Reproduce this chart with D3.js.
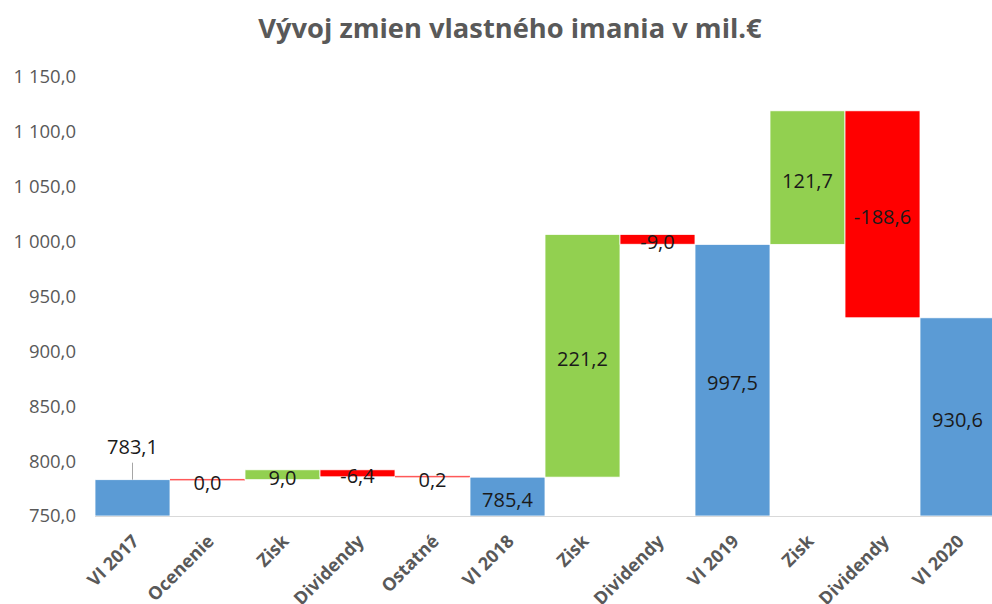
<!DOCTYPE html>
<html>
<head>
<meta charset="utf-8">
<script src="https://cdn.jsdelivr.net/npm/d3@7"></script>
<style>
  body { margin: 0; background: #fff; }
  svg { display: block; font-family: "Open Sans", sans-serif; }
</style>
</head>
<body>
<div id="chart"></div>
<script>
const categories = ["VI 2017", "Ocenenie", "Zisk", "Dividendy", "Ostatné", "VI 2018",
  "Zisk ", "Dividendy ", "VI 2019", "Zisk  ", "Dividendy  ", "VI 2020"]
const values = [783.1, 0.0, 9.0, -6.4, 0.2, 785.4, 221.2, -9.0, 997.5, 121.7, -188.6, 930.6]
const kinds = ["total", "other", "up", "down", "other", "total", "up", "down", "total", "up", "down", "total"]
const yTicks = [750, 800, 850, 900, 950, 1000, 1050, 1100, 1150]

const width = 992
const height = 604
const margin = { top: 77, right: -3, bottom: 88, left: 95 }
const colors = { total: "#5b9bd5", up: "#92d050", down: "#ff0000", other: "#ff0000" }
const fmt = v => d3.format(",.1f")(v).replace(/,/g, " ").replace(".", ",").replace("\u2212", "-")

// running totals for the waterfall
let running = 0
const bars = categories.map((c, i) => {
  let y0, y1
  if (kinds[i] === "total") {
    y0 = 750; y1 = values[i]; running = values[i]
  } else {
    y0 = running; y1 = running + values[i]; running = y1
  }
  return { cat: c, value: values[i], kind: kinds[i], y0, y1, i }
})

const svg = d3.select("#chart").append("svg")
  .attr("width", width)
  .attr("height", height)

const x = d3.scaleBand()
  .domain(categories)
  .range([margin.left, width - margin.right])
  .padding(0)

const y = d3.scaleLinear()
  .domain([750, 1150])
  .range([height - margin.bottom, margin.top])

svg.append("text")
  .attr("x", 510)
  .attr("y", 38)
  .attr("text-anchor", "middle")
  .attr("font-size", 27.3)
  .attr("font-weight", "bold")
  .attr("fill", "#595959")
  .text("Vývoj zmien vlastného imania v mil.€")

// y axis labels, no line
svg.append("g")
  .selectAll("text")
  .data(yTicks)
  .join("text")
  .attr("x", 76)
  .attr("y", d => y(d))
  .attr("dy", "0.35em")
  .attr("text-anchor", "end")
  .attr("font-size", 18.5)
  .attr("fill", "#595959")
  .text(fmt)

// bars
svg.append("g")
  .selectAll("rect")
  .data(bars)
  .join("rect")
  .attr("x", d => x(d.cat))
  .attr("width", x.bandwidth())
  .attr("y", d => {
    const top = Math.min(y(d.y0), y(d.y1))
    const h = Math.abs(y(d.y0) - y(d.y1))
    return h < 1.5 ? top - 0.75 : top
  })
  .attr("height", d => Math.max(1.5, Math.abs(y(d.y0) - y(d.y1))))
  .attr("fill", d => colors[d.kind])
  .attr("fill-opacity", d => d.kind === "other" ? 0.65 : 1)
  .attr("stroke", d => d.kind === "other" ? "none" : "#fff")
  .attr("stroke-width", 0.8)

// x axis line
svg.append("line")
  .attr("x1", margin.left)
  .attr("x2", width)
  .attr("y1", y(750) + 0.5)
  .attr("y2", y(750) + 0.5)
  .attr("stroke", "#d9d9d9")

// x labels, rotated
svg.append("g")
  .selectAll("text")
  .data(categories)
  .join("text")
  .attr("transform", d => `translate(${x(d) + x.bandwidth() / 2 + 3},${y(750) + 22}) rotate(-45)`)
  .attr("text-anchor", "end")
  .attr("dy", "0.35em")
  .attr("font-size", 18)
  .attr("font-weight", "bold")
  .attr("fill", "#595959")
  .text(d => d.trim())

// data labels
const labels = svg.append("g")
labels.selectAll("text")
  .data(bars)
  .join("text")
  .attr("x", d => x(d.cat) + x.bandwidth() / 2)
  .attr("y", d => d.i === 0 ? y(d.y1) - 33 : (y(d.y0) + y(d.y1)) / 2 + 3)
  .attr("dy", "0.35em")
  .attr("text-anchor", "middle")
  .attr("font-size", 20)
  .attr("fill", "#1a1a1a")
  .text(d => fmt(d.value))

// leader line for the first label
const first = bars[0]
svg.append("line")
  .attr("x1", x(first.cat) + x.bandwidth() / 2)
  .attr("x2", x(first.cat) + x.bandwidth() / 2)
  .attr("y1", y(first.y1) - 17)
  .attr("y2", y(first.y1))
  .attr("stroke", "#a6a6a6")
</script>
</body>
</html>
